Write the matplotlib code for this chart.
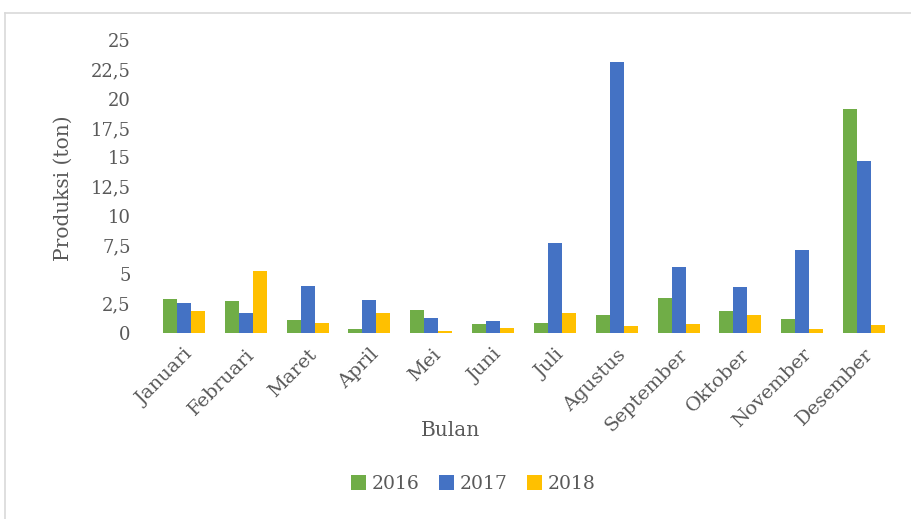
import matplotlib
matplotlib.use("Agg")
import matplotlib.pyplot as plt
from matplotlib.lines import Line2D
from matplotlib.patches import Patch
import numpy as np

months = ["Januari", "Februari", "Maret", "April", "Mei", "Juni", "Juli",
          "Agustus", "September", "Oktober", "November", "Desember"]
prod_2016 = [2.88, 2.74, 1.09, 0.37, 2.0, 0.8, 0.83, 1.54, 3.0, 1.86, 1.17, 19.1]
prod_2017 = [2.6, 1.68, 4.02, 2.83, 1.28, 1.03, 7.68, 23.14, 5.62, 3.91, 7.05, 14.67]
prod_2018 = [1.91, 5.33, 0.86, 1.68, 0.17, 0.4, 1.74, 0.6, 0.74, 1.54, 0.31, 0.71]
years = ["2016", "2017", "2018"]
yticks = [0, 2.5, 5, 7.5, 10, 12.5, 15, 17.5, 20, 22.5, 25]

colors = ["#70AD47", "#4472C4", "#FFC000"]
text_color = "#595959"
font = "DejaVu Serif"

W, H = 911, 519
fig = plt.figure(figsize=(W / 100, H / 100), dpi=100)

# light frame around the chart area
fig.add_artist(Line2D([5 / W, 5 / W], [0, 1 - 13 / H], color="#d9d9d9", lw=1.2,
                      transform=fig.transFigure))
fig.add_artist(Line2D([5 / W, 1], [1 - 13 / H, 1 - 13 / H], color="#d9d9d9", lw=1.2,
                      transform=fig.transFigure))

left, right = 153 / W, 895 / W
bottom, top = 1 - 333 / H, 1 - 40 / H
ax = fig.add_axes([left, bottom, right - left, top - bottom])

x = np.arange(len(months))
bw = 0.227
for i, (vals, c, lab) in enumerate(zip([prod_2016, prod_2017, prod_2018], colors, years)):
    ax.bar(x + (i - 1) * bw, vals, width=bw, color=c, label=lab, linewidth=0)

ax.set_xlim(-0.5, len(months) - 0.5)
ax.set_ylim(0, 25)
ax.set_yticks(yticks)
ax.set_yticklabels([f"{v:g}".replace(".", ",") for v in yticks],
                   fontsize=13, color=text_color, family=font)
ax.tick_params(axis="y", length=0, pad=16)
ax.set_xticks(x)
ax.set_xticklabels(months, rotation=45, ha="right", va="top", rotation_mode="anchor",
                   fontsize=14, color=text_color, family=font)
ax.tick_params(axis="x", length=0, pad=9)
for s in ax.spines.values():
    s.set_visible(False)

fig.text(63 / W, 1 - 188 / H, "Produksi (ton)", rotation=90, ha="center", va="center",
         fontsize=14.5, color=text_color, family=font)
fig.text(450 / W, 1 - 430 / H, "Bulan", ha="center", va="center",
         fontsize=14.5, color=text_color, family=font)

handles = [Patch(facecolor=c, edgecolor="none") for c in colors]
fig.legend(handles, years, loc="center", bbox_to_anchor=(473 / W, 1 - 484 / H),
           ncol=3, frameon=False, handlelength=0.8, handleheight=0.8,
           handletextpad=0.3, columnspacing=1.05,
           prop={"family": font, "size": 13.5}, labelcolor=text_color)

fig.savefig("out.png", dpi=100)
